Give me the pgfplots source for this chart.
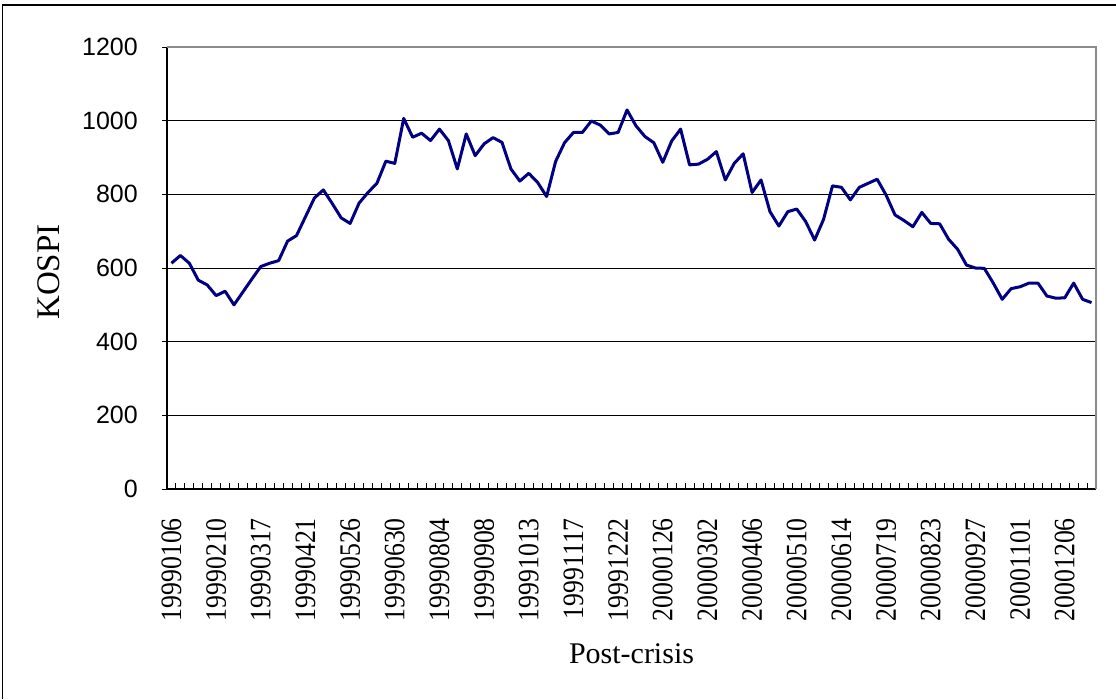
\documentclass[border=0pt]{standalone}
\usepackage{fontspec}
\setmainfont{Liberation Serif}
\setsansfont{Liberation Sans}
\newfontfamily\ticksfont[FakeStretch=0.87]{Liberation Serif}
\usepackage{pgfplots}
\pgfplotsset{compat=1.18}
\definecolor{kline}{RGB}{0,0,128}
\definecolor{borderg}{RGB}{140,140,140}
\begin{document}
\begin{tikzpicture}[x=1pt,y=1pt]
\path[use as bounding box] (0,0) rectangle (1116,699);
\draw[line width=1.2pt] (2.7,0) -- (2.7,694) -- (1116,694);
\begin{axis}[
  at={(167pt,210pt)}, anchor=south west,
  scale only axis, width=929pt, height=442pt,
  xmin=-0.5, xmax=103.5, ymin=0, ymax=1200,
  clip=false,
  axis lines=left, axis line style={-, line width=1.6pt, black},
  ytick={0,200,...,1200},
  ymajorgrids, major grid style={black, line width=0.8pt},
  ytick align=outside, ytick pos=left,
  major tick length=5pt, minor tick length=6pt,
  every tick/.style={black, line width=0.9pt},
  yticklabel style={font=\sffamily\fontsize{25}{25}\selectfont, anchor=east, inner sep=0pt},
  yticklabel shift=24pt,
  /pgf/number format/assume math mode=true,
  /pgf/number format/1000 sep={},
  xtick={0,5,...,100},
  xticklabels={19990106,19990210,19990317,19990421,19990526,19990630,19990804,19990908,19991013,19991117,19991222,20000126,20000302,20000406,20000510,20000614,20000719,20000823,20000927,20001101,20001206},
  major x tick style={draw=none},
  minor xtick={-0.5,0.5,...,103.5},
  xtick align=inside,
  xticklabel style={font=\ticksfont\fontsize{29.6}{30}\selectfont, rotate=90, anchor=east, inner sep=0pt},
  xticklabel shift=29pt,
  xlabel={Post-crisis},
  xlabel style={at={(axis description cs:0.5,-0.3937)}, anchor=base, inner sep=0pt, font=\fontsize{30}{30}\selectfont},
  ylabel={KOSPI},
  ylabel style={at={(axis description cs:-0.127,0.491)}, anchor=center, inner sep=0pt, font=\fontsize{33}{33}\selectfont},
]
\addplot[kline, line width=3pt, line join=round, mark=none] coordinates {
(0,613) (1,634) (2,613) (3,567) (4,554) (5,525) (6,537) (7,500) (8,535) (9,570)
(10,604) (11,613) (12,620) (13,673) (14,688) (15,739) (16,790) (17,812) (18,775) (19,736)
(20,721) (21,776) (22,805) (23,830) (24,890) (25,884) (26,1006) (27,955) (28,966) (29,946)
(30,977) (31,946) (32,869) (33,964) (34,905) (35,937) (36,954) (37,941) (38,869) (39,836)
(40,857) (41,832) (42,794) (43,889) (44,940) (45,968) (46,968) (47,999) (48,988) (49,964)
(50,968) (51,1029) (52,986) (53,957) (54,940) (55,887) (56,945) (57,977) (58,880) (59,882)
(60,895) (61,916) (62,839) (63,884) (64,910) (65,805) (66,839) (67,753) (68,714) (69,753)
(70,760) (71,726) (72,676) (73,732) (74,823) (75,819) (76,785) (77,819) (78,830) (79,841)
(80,798) (81,744) (82,729) (83,712) (84,751) (85,721) (86,720) (87,678) (88,651) (89,608)
(90,600) (91,599) (92,559) (93,515) (94,544) (95,549) (96,559) (97,559) (98,524) (99,518)
(100,519) (101,559) (102,515) (103,506)
};
\draw[borderg, line width=2pt] (rel axis cs:0,1) -- (rel axis cs:1,1) -- (rel axis cs:1,0);
\end{axis}
\end{tikzpicture}
\end{document}
